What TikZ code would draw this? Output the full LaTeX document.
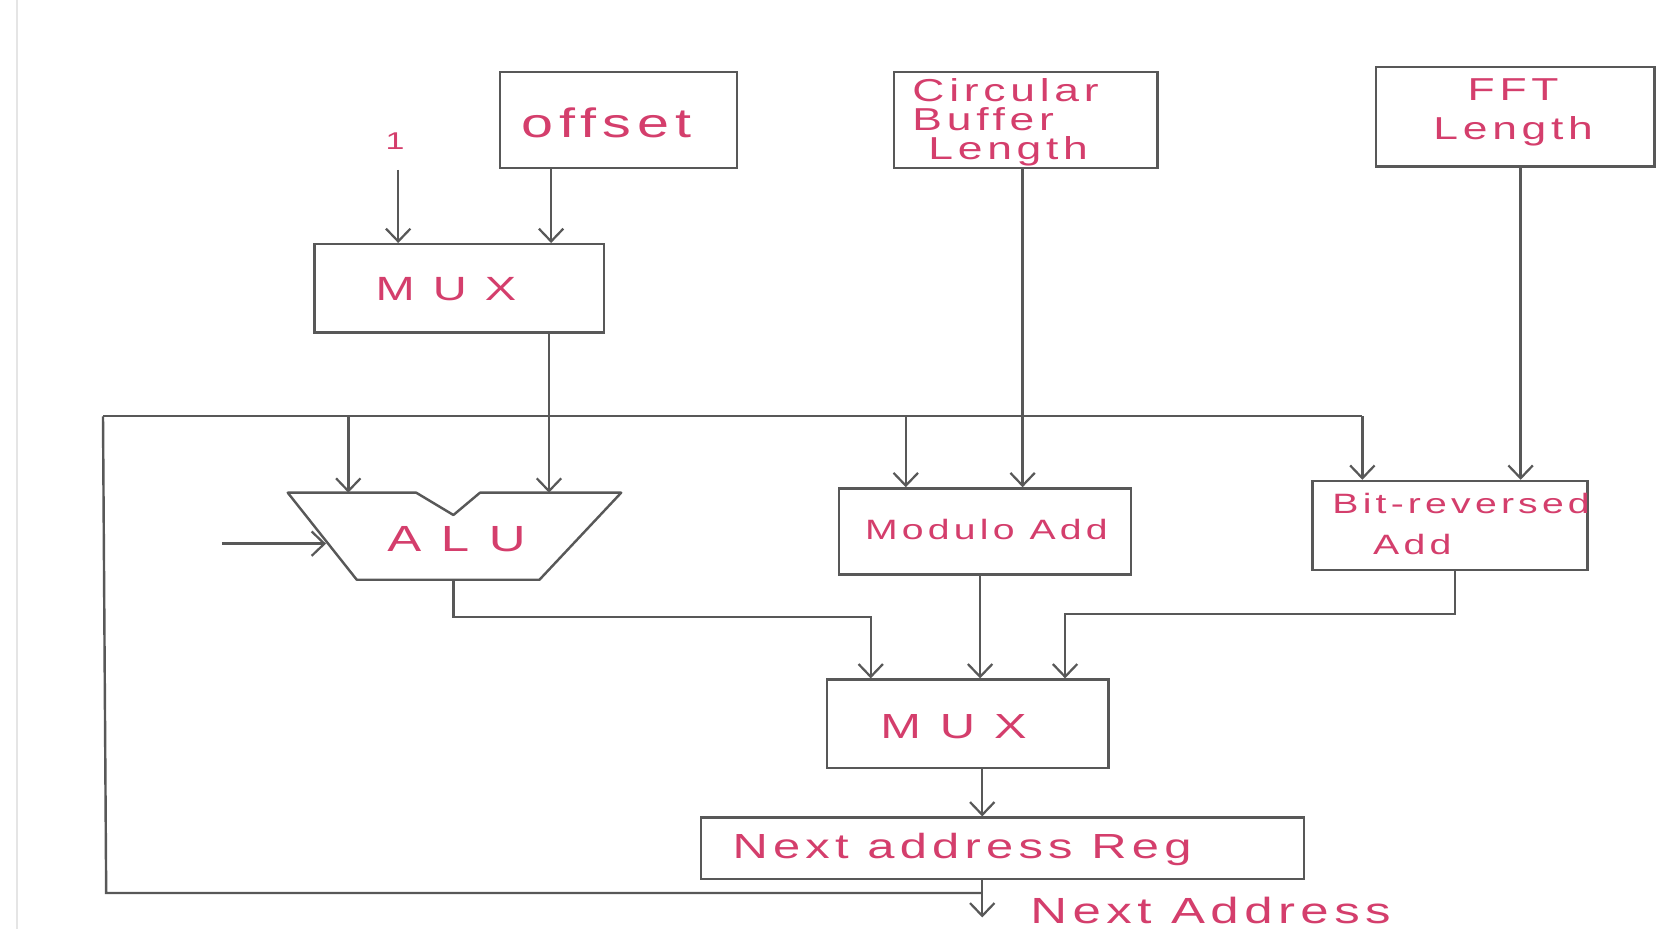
\documentclass[tikz,border=0pt]{standalone}
\usepackage{fontspec}
\newfontfamily\hand[FakeStretch=1.4,LetterSpace=15]{Liberation Sans}
\usetikzlibrary{arrows.meta}
\definecolor{ink}{RGB}{212,62,108}
\definecolor{lc}{RGB}{88,88,88}
\newcommand\hfs[2]{\hand\fontsize{#1}{#2}\selectfont}
\begin{document}
\begin{tikzpicture}[x=0.02cm,y=-0.02cm,
  box/.style={draw=lc,line width=1.3pt,inner sep=0pt},
  txt/.style={text=ink,inner sep=0pt},
  wire/.style={draw=lc,line width=1.3pt},
  arr/.style={wire,-{Straight Barb[length=0.24cm,width=0.46cm,line width=1.2pt]}}]
\fill[white] (0,0) rectangle (1568,875);
\useasboundingbox (0,0) rectangle (1568,875);
\draw[gray!20,line width=1.5pt] (16,0) -- (16,875);

% boxes
\node[box,minimum width=4.46cm,minimum height=1.80cm] (offset) at (582.5,113) {};
\node[box,minimum width=5.46cm,minimum height=1.66cm] (mux1) at (432.5,271.5) {};
\node[box,minimum width=4.96cm,minimum height=1.80cm] (cbl) at (966,113) {};
\node[box,minimum width=5.24cm,minimum height=1.88cm] (fft) at (1427,110) {};
\node[box,minimum width=5.50cm,minimum height=1.62cm] (mod) at (927.5,500.5) {};
\node[box,minimum width=5.18cm,minimum height=1.68cm] (brev) at (1365.5,495) {};
\node[box,minimum width=5.30cm,minimum height=1.66cm] (mux2) at (911.5,681.5) {};
\node[box,minimum width=11.36cm,minimum height=1.16cm] (nar) at (944,799) {};

% ALU shape
\draw[wire,line join=round] (271,464) -- (392,464) -- (427,485) -- (452,464) -- (585,464)
  -- (508,546) -- (336,546) -- cycle;
\coordinate (alutop) at (0,464);

% texts
\node[txt,font=\hfs{13}{15}] (tone) at (372,133) {1};
\node[txt,font=\hfs{22}{24}] (toffset) at (571,116) {offset};
\node[txt,font=\hfs{18}{20}] (tmux1) at (420,272) {M U X};
\node[txt,font=\hfs{17}{15.6},align=left] (tcbl) at (947,115) {Circular\\Buffer\\\hspace{0.3cm}Length};
\node[txt,font=\hfs{17}{21},align=center] (tfft) at (1425,106) {FFT\\Length};
\node[txt,font=\hfs{19.5}{21}] (talu) at (430,508) {A L U};
\node[txt,font=\hfs{15}{17}] (tmod) at (929,499) {Modulo Add};
\node[txt,font=\hfs{15}{17}] (tbrev1) at (1376,474) {Bit-reversed};
\node[txt,font=\hfs{15}{17}] (tbrev2) at (1330,513) {Add};
\node[txt,font=\hfs{18.7}{20}] (tmux2) at (898,684) {M U X};
\node[txt,font=\hfs{18.7}{20}] (tnar) at (906,800) {Next address Reg};
\node[txt,font=\hfs{19.5}{21}] (tout) at (1140,857) {Next Address};

% coordinates
\coordinate (a1) at (375,160);
\coordinate (xo) at (519,0);
\coordinate (xm1) at (517,0);
\coordinate (busL) at (97,392);
\coordinate (busR) at (1283,392);
\coordinate (d1) at (328,392);
\coordinate (d2) at (853,392);
\coordinate (xc) at (963,0);
\coordinate (xf) at (1432,0);
\coordinate (ain) at (209,512);
\coordinate (ainE) at (307,512);
\coordinate (aluout) at (427,546);
\coordinate (yA) at (0,581);
\coordinate (xa2) at (820,0);
\coordinate (xmd) at (923,0);
\coordinate (xb) at (1370,0);
\coordinate (xb2) at (1003,0);
\coordinate (yB) at (0,578);
\coordinate (xn) at (925,0);
\coordinate (outE) at (925,864);
\coordinate (fb) at (925,841);
\coordinate (fbL) at (100,841);

% connectors
\draw[arr] (a1) -- (a1 |- mux1.north);
\draw[arr] (xo |- offset.south) -- (xo |- mux1.north);
\draw[arr] (xm1 |- mux1.south) -- (xm1 |- alutop);
\draw[wire] (busL) -- (busR);
\draw[arr] (d1) -- (d1 |- alutop);
\draw[arr] (d2) -- (d2 |- mod.north);
\draw[arr] (busR) -- (busR |- brev.north);
\draw[arr] (xc |- cbl.south) -- (xc |- mod.north);
\draw[arr] (xf |- fft.south) -- (xf |- brev.north);
\draw[arr] (ain) -- (ainE);
\draw[arr] (aluout) -- (aluout |- yA) -- (xa2 |- yA) -- (xa2 |- mux2.north);
\draw[arr] (xmd |- mod.south) -- (xmd |- mux2.north);
\draw[arr] (xb |- brev.south) -- (xb |- yB) -- (xb2 |- yB) -- (xb2 |- mux2.north);
\draw[arr] (xn |- mux2.south) -- (xn |- nar.north);
\draw[arr] (xn |- nar.south) -- (outE);
\draw[wire] (fb) -- (fbL) -- (busL);
\end{tikzpicture}
\end{document}
